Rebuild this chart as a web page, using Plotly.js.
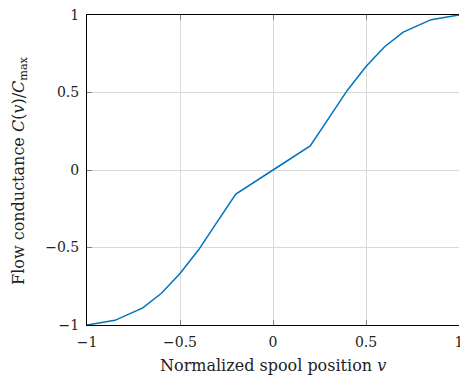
<!DOCTYPE html>
<html>
<head>
<meta charset="utf-8">
<script src="https://cdn.plot.ly/plotly-3.0.1.min.js"></script>
<style>html,body{margin:0;padding:0;background:#fff;}#chart{width:460px;height:383px;}</style>
</head>
<body>
<div id="chart"></div>
<script>
var spoolPosition = [-1, -0.85, -0.7, -0.6, -0.5, -0.4, -0.3, -0.2, 0, 0.2, 0.3, 0.4, 0.5, 0.6, 0.7, 0.85, 1];
var conductance = [-1, -0.97, -0.89, -0.795, -0.667, -0.515, -0.335, -0.155, 0, 0.155, 0.335, 0.515, 0.667, 0.795, 0.89, 0.97, 1];
var tickValues = [-1, -0.5, 0, 0.5, 1];
var tickLabels = ['\u22121', '\u22120.5', '0', '0.5', '1'];

var font = {family: 'DejaVu Serif', size: 14, color: '#222'};
var titleFont = {family: 'DejaVu Serif', size: 16, color: '#222'};

var trace = {
  x: spoolPosition, y: conductance, type: 'scatter', mode: 'lines',
  line: {color: '#0072BD', width: 1.5}, hoverinfo: 'skip'
};

var axisCommon = {
  range: [-1, 1], tickvals: tickValues, ticktext: tickLabels,
  showgrid: true, gridcolor: '#d9d9d9', gridwidth: 1,
  zeroline: false, showline: true, linecolor: '#000', linewidth: 1,
  ticks: 'inside', ticklen: 5, tickcolor: '#808080', tickwidth: 1,
  tickfont: font, fixedrange: true, ticklabeloverflow: 'allow'
};

var layout = {
  width: 460, height: 383,
  margin: {l: 86.5, r: 0.5, t: 14.5, b: 58},
  paper_bgcolor: '#fff', plot_bgcolor: '#fff',
  showlegend: false,
  font: font,
  xaxis: Object.assign({}, axisCommon, {ticklabelstandoff: 4, mirror: 'ticks'}),
  yaxis: Object.assign({}, axisCommon, {ticklabelstandoff: 4, mirror: false}),
  annotations: [
    {text: 'Normalized spool position <i>v</i>', xref: 'paper', yref: 'paper',
     x: 0.5, y: -0.132, xanchor: 'center', yanchor: 'middle', showarrow: false, font: titleFont},
    {text: 'Flow conductance <i>C</i>(<i>v</i>)/<i>C</i><sub>max</sub>', xref: 'paper', yref: 'paper',
     x: -0.183, y: 0.5, xanchor: 'center', yanchor: 'middle', textangle: -90, showarrow: false, font: titleFont}
  ]
};

Plotly.newPlot('chart', [trace], layout, {displayModeBar: false, staticPlot: true});
</script>
</body>
</html>
